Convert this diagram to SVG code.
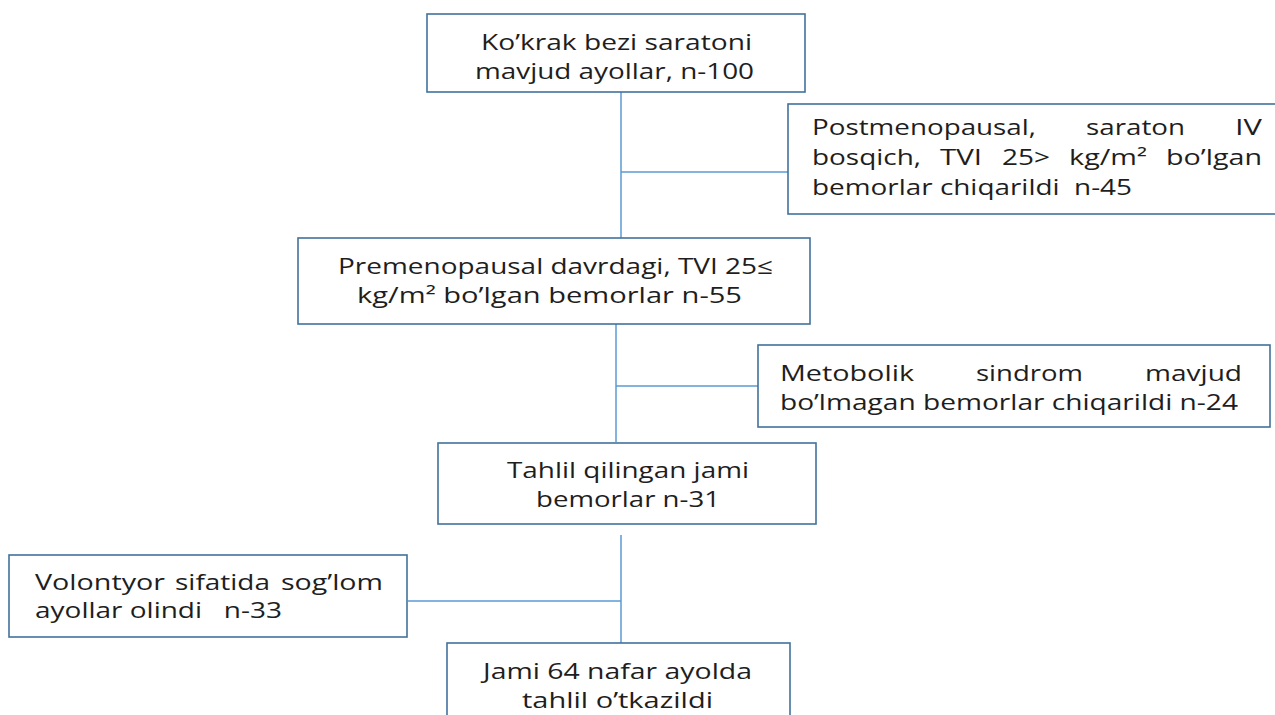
<svg xmlns="http://www.w3.org/2000/svg" width="1275" height="715" viewBox="0 0 1275 715">
<style>
.box{fill:#fff;stroke:#41719C;stroke-width:1.6}
.ln{stroke:#5B9BD5;stroke-width:1.5;fill:none}
text{font-family:"Open Sans","Noto Sans",sans-serif;font-size:22px;fill:#1e1e1e}
</style>
<rect width="1275" height="715" fill="#fff"/>
<g id="connectors">
<path class="ln" d="M621 92V238M621 172H788"/>
<path class="ln" d="M616 324V442M616 386H758"/>
<path class="ln" d="M621 535V643M408 601H621"/>
</g>
<g id="n1">
<rect class="box" x="427" y="14" width="378" height="78"/>
<text x="481" y="50" textLength="271" lengthAdjust="spacingAndGlyphs">Ko’krak bezi saratoni</text>
<text x="475" y="79" textLength="279" lengthAdjust="spacingAndGlyphs">mavjud ayollar, n-100</text>
</g>
<g id="n2">
<rect class="box" x="788" y="104" width="490" height="110"/>
<text x="812" y="135" textLength="224" lengthAdjust="spacingAndGlyphs">Postmenopausal,</text>
<text x="1086" y="135" textLength="99" lengthAdjust="spacingAndGlyphs">saraton</text>
<text x="1235" y="135" textLength="27" lengthAdjust="spacingAndGlyphs">IV</text>
<text x="812" y="165" textLength="109" lengthAdjust="spacingAndGlyphs">bosqich,</text>
<text x="940" y="165" textLength="42" lengthAdjust="spacingAndGlyphs">TVI</text>
<text x="1002" y="165" textLength="48" lengthAdjust="spacingAndGlyphs">25&gt;</text>
<text x="1069" y="165" textLength="78" lengthAdjust="spacingAndGlyphs">kg/m²</text>
<text x="1166" y="165" textLength="96" lengthAdjust="spacingAndGlyphs">bo’lgan</text>
<text x="812" y="195" xml:space="preserve" textLength="320" lengthAdjust="spacingAndGlyphs">bemorlar chiqarildi  n-45</text>
</g>
<g id="n3">
<rect class="box" x="298" y="238" width="512" height="86"/>
<text x="338" y="274" textLength="435" lengthAdjust="spacingAndGlyphs">Premenopausal davrdagi, TVI 25≤</text>
<text x="357" y="303" textLength="385" lengthAdjust="spacingAndGlyphs">kg/m² bo’lgan bemorlar n-55</text>
</g>
<g id="n4">
<rect class="box" x="758" y="345" width="512" height="82"/>
<text x="780" y="381" textLength="134" lengthAdjust="spacingAndGlyphs">Metobolik</text>
<text x="976" y="381" textLength="107" lengthAdjust="spacingAndGlyphs">sindrom</text>
<text x="1145" y="381" textLength="97" lengthAdjust="spacingAndGlyphs">mavjud</text>
<text x="780" y="410" textLength="458" lengthAdjust="spacingAndGlyphs">bo’lmagan bemorlar chiqarildi n-24</text>
</g>
<g id="n5">
<rect class="box" x="438" y="443" width="378" height="81"/>
<text x="507" y="478" textLength="242" lengthAdjust="spacingAndGlyphs">Tahlil qilingan jami</text>
<text x="536" y="507" textLength="184" lengthAdjust="spacingAndGlyphs">bemorlar n-31</text>
</g>
<g id="n6">
<rect class="box" x="9" y="555" width="398" height="82"/>
<text x="35" y="590" textLength="130" lengthAdjust="spacingAndGlyphs">Volontyor</text>
<text x="175" y="590" textLength="95" lengthAdjust="spacingAndGlyphs">sifatida</text>
<text x="281" y="590" textLength="102" lengthAdjust="spacingAndGlyphs">sog’lom</text>
<text x="35" y="618" xml:space="preserve" textLength="247" lengthAdjust="spacingAndGlyphs">ayollar olindi   n-33</text>
</g>
<g id="n7">
<rect class="box" x="447" y="643" width="343" height="80"/>
<text x="483" y="679" textLength="269" lengthAdjust="spacingAndGlyphs">Jami 64 nafar ayolda</text>
<text x="522" y="708" textLength="191" lengthAdjust="spacingAndGlyphs">tahlil o’tkazildi</text>
</g>
</svg>
